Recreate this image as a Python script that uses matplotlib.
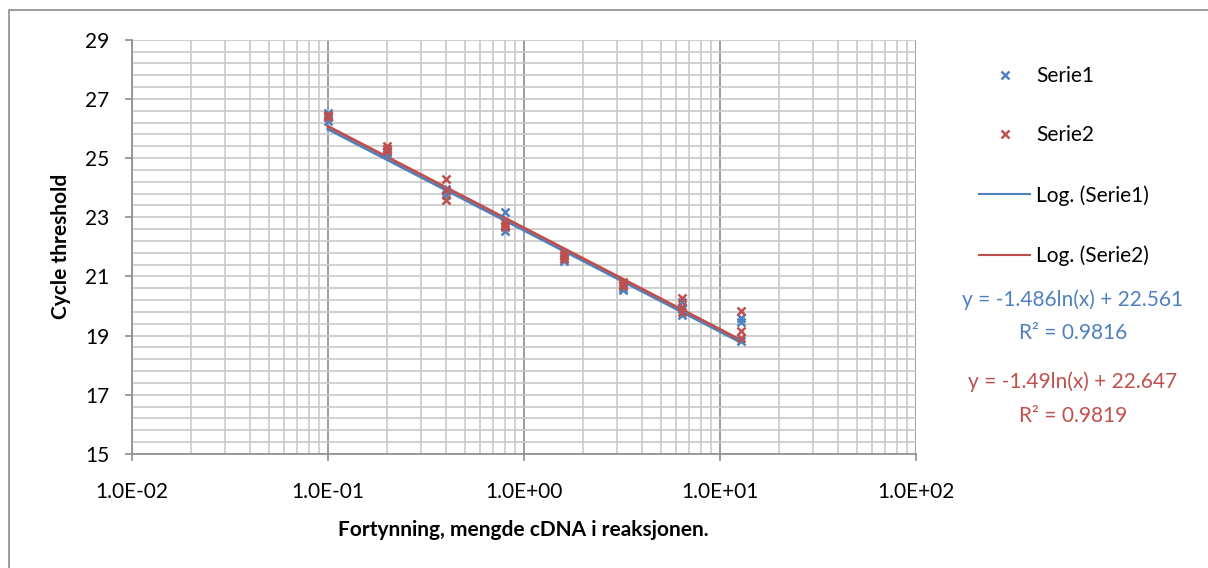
import numpy as np
import matplotlib
matplotlib.use('Agg')
import matplotlib.pyplot as plt
from matplotlib.lines import Line2D
from matplotlib.patches import Rectangle
from matplotlib.ticker import FixedLocator, FuncFormatter, NullFormatter

plt.rcParams['font.family'] = ['Lato', 'DejaVu Sans']

# dilution steps (x) and Ct values, three replicates per step
dilution = [0.1, 0.2, 0.4, 0.8, 1.6, 3.2, 6.4, 12.8]
serie1_ct = [
    [26.52, 26.40, 26.27],
    [25.30, 25.20, 25.15],
    [23.97, 23.87, 23.75],
    [23.16, 22.70, 22.52],
    [21.72, 21.62, 21.52],
    [20.70, 20.62, 20.55],
    [20.12, 19.90, 19.70],
    [19.58, 19.45, 18.80],
]
serie2_ct = [
    [26.46, 26.42, 26.38],
    [25.42, 25.32, 25.25],
    [24.30, 23.92, 23.58],
    [22.80, 22.72, 22.66],
    [21.78, 21.68, 21.60],
    [20.80, 20.72, 20.66],
    [20.28, 19.96, 19.78],
    [19.84, 19.16, 18.92],
]
# logarithmic trendlines as reported: y = a*ln(x) + b
trend_a = [-1.486, -1.49]
trend_b = [22.561, 22.647]
trend_text = ['y = -1.486ln(x) + 22.561\nR² = 0.9816',
              'y = -1.49ln(x) + 22.647\nR² = 0.9819']
series_names = ['Serie1', 'Serie2']

blue = '#4F81BD'
red = '#C0504D'
grid_minor = '#C8C8C8'
grid_major = '#8C8C8C'
fs = 15

fig = plt.figure(figsize=(12.08, 5.68), dpi=100)
ax = fig.add_axes([0.109, 0.201, 0.649, 0.729])

# scatter points
handles = []
for name, ct, col in zip(series_names, [serie1_ct, serie2_ct], [blue, red]):
    xs = np.repeat(dilution, 3)
    ys = np.array(ct).ravel()
    h, = ax.plot(xs, ys, linestyle='none', marker='x', markersize=5.5,
                 markeredgewidth=1.8, color=col, label=name, zorder=4)
    handles.append(h)

# trendlines
xline = np.geomspace(dilution[0], dilution[-1], 100)
for name, a, b, col in zip(series_names, trend_a, trend_b, [blue, red]):
    ax.plot(xline, a * np.log(xline) + b, color=col, linewidth=2, zorder=3)
    handles.append(Line2D([], [], color=col, linewidth=1.5, label=f'Log. ({name})'))

ax.set_xscale('log')
ax.set_xlim(0.01, 100)
ax.set_ylim(15, 29)

ax.xaxis.set_major_locator(FixedLocator([0.01, 0.1, 1, 10, 100]))
ax.xaxis.set_major_formatter(FuncFormatter(lambda v, p: f'{v:.1E}'))
minors_x = [m * 10.0 ** e for e in range(-2, 2) for m in range(2, 10)]
ax.xaxis.set_minor_locator(FixedLocator(minors_x))
ax.xaxis.set_minor_formatter(NullFormatter())
ax.set_yticks(np.arange(15, 30, 2))
ax.set_yticks(np.arange(15, 29.01, 0.4), minor=True)

ax.grid(which='minor', color=grid_minor, linewidth=1.2, zorder=0)
ax.grid(which='major', axis='y', color=grid_minor, linewidth=1.2, zorder=0)
ax.grid(which='major', axis='x', color=grid_major, linewidth=1.2, zorder=0)
ax.set_axisbelow(True)

for s in ['top', 'right']:
    ax.spines[s].set_visible(False)
for s in ['left', 'bottom']:
    ax.spines[s].set_color(grid_major)
    ax.spines[s].set_linewidth(1.2)

ax.tick_params(which='major', length=5, width=1.2, color=grid_major,
               labelsize=fs)
ax.tick_params(axis='x', which='major', pad=15)
ax.tick_params(axis='y', which='major', pad=11)
ax.tick_params(which='minor', length=0)

ax.set_xlabel('Fortynning, mengde cDNA i reaksjonen.', fontsize=fs,
              fontweight='bold', labelpad=13)
ax.set_ylabel('Cycle threshold', fontsize=fs, fontweight='bold', labelpad=10.5)

fig.legend(handles=handles, loc='upper left', bbox_to_anchor=(0.795, 0.917),
           frameon=False, fontsize=fs, labelspacing=1.9, handlelength=2.45,
           handletextpad=0.3)

fig.text(0.888, 0.443, trend_text[0], color=blue, fontsize=fs,
         ha='center', va='center', linespacing=1.85)
fig.text(0.888, 0.298, trend_text[1], color=red, fontsize=fs,
         ha='center', va='center', linespacing=1.85)

# chart border (only left/top edges fall inside the picture)
fig.patches.append(Rectangle((0.0075, -0.05), 1.2, 1.032, transform=fig.transFigure,
                             fill=False, edgecolor='#8C8C8C', linewidth=1.2))

fig.savefig('out.png', dpi=100, facecolor='white')
